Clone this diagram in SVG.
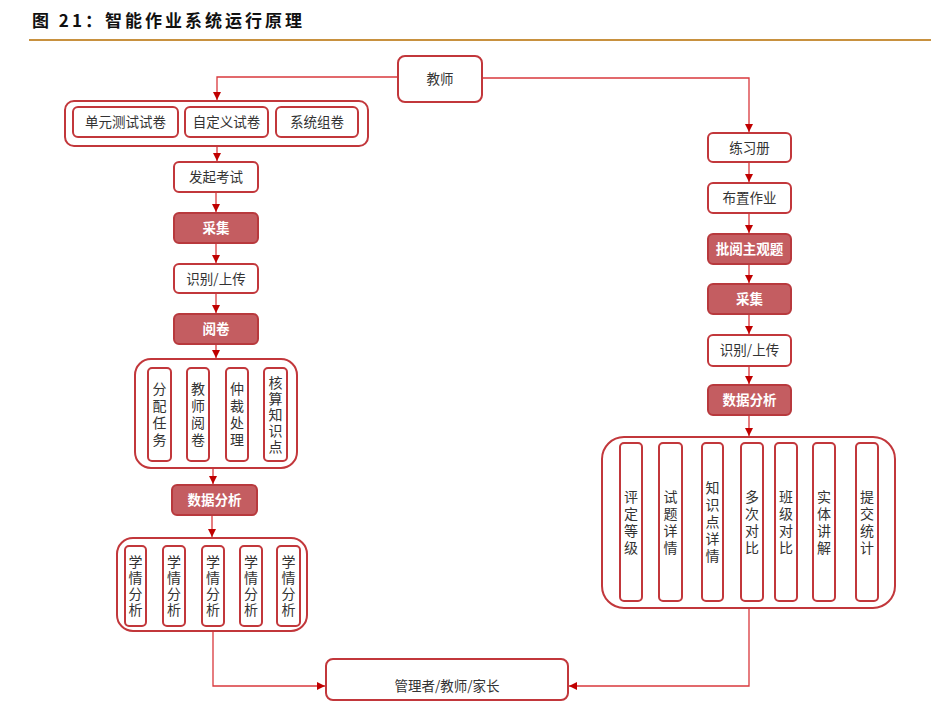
<svg xmlns="http://www.w3.org/2000/svg" width="931" height="702" viewBox="0 0 931 702">
<defs>
<marker id="ah" markerUnits="userSpaceOnUse" markerWidth="9" markerHeight="9" refX="8" refY="4.5" orient="auto">
<path d="M0,0.5 L8,4.5 L0,8.5 z" fill="#C00000"/>
</marker>
<style>
text{font-family:"Noto Sans CJK SC","Noto Sans",sans-serif;}
.box{fill:#fff;stroke:#C2373B;stroke-width:2;}
.dark{fill:#C45D61;stroke:#B8393D;stroke-width:2;}
.t{font-size:13.5px;fill:#333;text-anchor:middle;}
.tw{font-size:13.5px;fill:#fff;text-anchor:middle;font-weight:bold;}
.v{font-size:14px;fill:#333;text-anchor:middle;writing-mode:vertical-rl;letter-spacing:3px;}
.v2{font-size:14px;fill:#333;text-anchor:middle;writing-mode:vertical-rl;letter-spacing:2px;}
.ln{fill:none;stroke:#D9383C;stroke-width:1.3;}
</style>
</defs>
<rect width="931" height="702" fill="#fff"/>
<text x="32" y="27" style="font-size:17px;font-weight:bold;fill:#111;letter-spacing:3px">图 21：智能作业系统运行原理</text>
<line x1="29" y1="40" x2="931" y2="40" stroke="#C8913F" stroke-width="2"/>

<g id="connectors">
<path class="ln" d="M398,77 H217 V100" marker-end="url(#ah)"/>
<path class="ln" d="M482,78 H749 V132" marker-end="url(#ah)"/>
<path class="ln" d="M217,146 V161" marker-end="url(#ah)"/>
<path class="ln" d="M216,192 V212" marker-end="url(#ah)"/>
<path class="ln" d="M216,243 V263" marker-end="url(#ah)"/>
<path class="ln" d="M216,293 V313" marker-end="url(#ah)"/>
<path class="ln" d="M216,344 V358" marker-end="url(#ah)"/>
<path class="ln" d="M213,468 V484" marker-end="url(#ah)"/>
<path class="ln" d="M212,515 V537" marker-end="url(#ah)"/>
<path class="ln" d="M213,631 V686 H325" marker-end="url(#ah)"/>
<path class="ln" d="M749,162 V182" marker-end="url(#ah)"/>
<path class="ln" d="M749,213 V233" marker-end="url(#ah)"/>
<path class="ln" d="M749,264 V283" marker-end="url(#ah)"/>
<path class="ln" d="M749,314 V334" marker-end="url(#ah)"/>
<path class="ln" d="M749,366 V384" marker-end="url(#ah)"/>
<path class="ln" d="M749,415 V436" marker-end="url(#ah)"/>
<path class="ln" d="M749,608 V686 H569" marker-end="url(#ah)"/>
</g>

<g id="teacher"><rect class="box" x="398" y="56" width="84" height="46" rx="7"/><text class="t" x="440" y="84">教师</text></g>

<g id="paper-group">
<rect class="box" x="65" y="101" width="303" height="45" rx="9"/>
<g id="unit-test"><rect class="box" x="73" y="107" width="105" height="30" rx="5"/><text class="t" x="125.5" y="127">单元测试试卷</text></g>
<g id="custom-test"><rect class="box" x="185" y="107" width="83" height="30" rx="5"/><text class="t" x="226.5" y="127">自定义试卷</text></g>
<g id="system-test"><rect class="box" x="276" y="107" width="82" height="30" rx="5"/><text class="t" x="317" y="127">系统组卷</text></g>
</g>

<g id="start-exam"><rect class="box" x="174" y="162" width="84" height="30" rx="5"/><text class="t" x="216" y="182">发起考试</text></g>
<g id="collect-l"><rect class="dark" x="174" y="213" width="84" height="30" rx="5"/><text class="tw" x="216" y="233">采集</text></g>
<g id="upload-l"><rect class="box" x="174" y="264" width="84" height="29" rx="5"/><text class="t" x="216" y="284">识别/上传</text></g>
<g id="grading"><rect class="dark" x="174" y="314" width="84" height="30" rx="5"/><text class="tw" x="216" y="334">阅卷</text></g>

<g id="grading-group">
<rect class="box" x="135" y="359" width="162" height="109" rx="16"/>
<g id="assign"><rect class="box" x="148" y="368" width="23" height="93" rx="4"/><text class="v" x="159.5" y="415.5">分配任务</text></g>
<g id="teacher-grade"><rect class="box" x="187" y="368" width="22" height="93" rx="4"/><text class="v" x="198" y="415.5">教师阅卷</text></g>
<g id="arbitrate"><rect class="box" x="226" y="368" width="22" height="93" rx="4"/><text class="v" x="237" y="415.5">仲裁处理</text></g>
<g id="verify"><rect class="box" x="264" y="368" width="23" height="93" rx="4"/><text class="v2" x="275.5" y="416">核算知识点</text></g>
</g>

<g id="analysis-l"><rect class="dark" x="172" y="485" width="85" height="30" rx="5"/><text class="tw" x="214.5" y="505">数据分析</text></g>

<g id="learn-group">
<rect class="box" x="117" y="538" width="190" height="93" rx="16"/>
<g id="learn1"><rect class="box" x="125" y="546" width="21" height="80" rx="4"/><text class="v2" x="135.5" y="587">学情分析</text></g>
<g id="learn2"><rect class="box" x="163" y="546" width="22" height="80" rx="4"/><text class="v2" x="174" y="587">学情分析</text></g>
<g id="learn3"><rect class="box" x="202" y="546" width="22" height="80" rx="4"/><text class="v2" x="213" y="587">学情分析</text></g>
<g id="learn4"><rect class="box" x="240" y="546" width="22" height="80" rx="4"/><text class="v2" x="251" y="587">学情分析</text></g>
<g id="learn5"><rect class="box" x="277" y="546" width="23" height="80" rx="4"/><text class="v2" x="288.5" y="587">学情分析</text></g>
</g>

<g id="workbook"><rect class="box" x="708" y="133" width="83" height="29" rx="5"/><text class="t" x="749.5" y="153">练习册</text></g>
<g id="assign-hw"><rect class="box" x="708" y="183" width="83" height="30" rx="5"/><text class="t" x="749.5" y="203">布置作业</text></g>
<g id="review"><rect class="dark" x="708" y="234" width="83" height="30" rx="5"/><text class="tw" x="749.5" y="254">批阅主观题</text></g>
<g id="collect-r"><rect class="dark" x="708" y="284" width="83" height="30" rx="5"/><text class="tw" x="749.5" y="304">采集</text></g>
<g id="upload-r"><rect class="box" x="708" y="335" width="83" height="31" rx="5"/><text class="t" x="749.5" y="355">识别/上传</text></g>
<g id="analysis-r"><rect class="dark" x="708" y="385" width="83" height="30" rx="5"/><text class="tw" x="749.5" y="405">数据分析</text></g>

<g id="stats-group">
<rect class="box" x="602" y="437" width="293" height="171" rx="22"/>
<g id="rate"><rect class="box" x="620" y="443" width="22" height="158" rx="4"/><text class="v" x="631" y="523.5">评定等级</text></g>
<g id="question"><rect class="box" x="659" y="443" width="23" height="158" rx="4"/><text class="v" x="670.5" y="523.5">试题详情</text></g>
<g id="knowledge"><rect class="box" x="702" y="443" width="21" height="158" rx="4"/><text class="v" x="712.5" y="523.5">知识点详情</text></g>
<g id="multi"><rect class="box" x="741" y="443" width="22" height="158" rx="4"/><text class="v" x="752" y="523.5">多次对比</text></g>
<g id="class"><rect class="box" x="775" y="443" width="22" height="158" rx="4"/><text class="v" x="786" y="523.5">班级对比</text></g>
<g id="lecture"><rect class="box" x="813" y="443" width="22" height="158" rx="4"/><text class="v" x="824" y="523.5">实体讲解</text></g>
<g id="submit"><rect class="box" x="856" y="443" width="22" height="158" rx="4"/><text class="v" x="867" y="523.5">提交统计</text></g>
</g>

<g id="users"><rect class="box" x="326" y="659" width="242" height="41" rx="7"/><text class="t" x="447" y="691">管理者/教师/家长</text></g>
</svg>
